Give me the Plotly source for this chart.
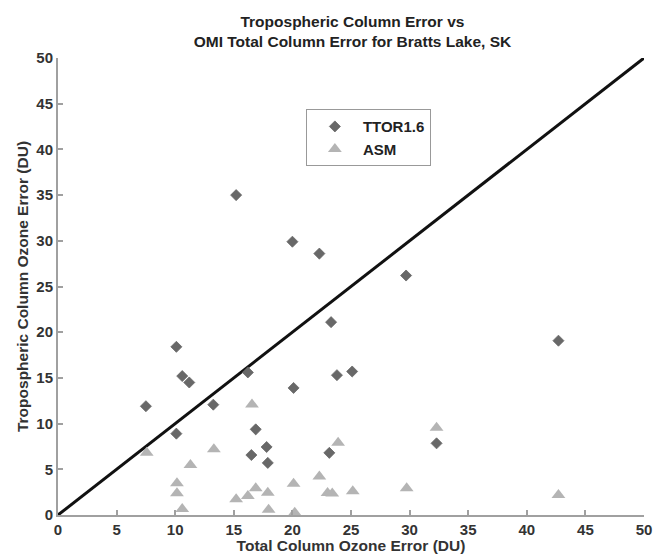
import plotly.graph_objects as go

# TTOR1.6 (diamonds)
ttor_x = [7.5, 10.1, 10.1, 10.6, 11.2, 13.25, 15.2, 16.2, 16.5, 16.87, 17.8, 17.9,
          20.0, 20.1, 22.3, 23.3, 23.15, 23.8, 25.1, 29.7, 32.3, 42.7]
ttor_y = [11.9, 18.4, 8.9, 15.2, 14.5, 12.07, 35.0, 15.6, 6.56, 9.37, 7.44, 5.7,
          29.9, 13.9, 28.6, 21.1, 6.8, 15.3, 15.7, 26.2, 7.84, 19.07]

# ASM (triangles)
asm_x = [7.57, 10.15, 10.15, 10.6, 11.3, 13.3, 15.2, 16.2, 16.55, 16.87, 17.9, 17.97,
         20.1, 20.2, 22.3, 23.0, 23.4, 23.9, 25.15, 29.75, 32.3, 42.7]
asm_y = [6.8, 3.47, 2.37, 0.65, 5.47, 7.19, 1.72, 2.08, 12.1, 2.92, 2.44, 0.58,
         3.43, 0.25, 4.2, 2.4, 2.35, 7.9, 2.6, 2.92, 9.55, 2.19]

# 1:1 reference line
line_x = [0, 50]
line_y = [0, 50]

tick_vals = [0, 5, 10, 15, 20, 25, 30, 35, 40, 45, 50]

FONT = "Liberation Sans"

fig = go.Figure()
fig.add_trace(go.Scatter(x=line_x, y=line_y, mode="lines",
                         line=dict(color="#111111", width=3), showlegend=False,
                         cliponaxis=False))
fig.add_trace(go.Scatter(x=ttor_x, y=ttor_y, mode="markers", name="TTOR1.6",
                         marker=dict(symbol="diamond", size=8.5, color="#686868",
                                     line=dict(width=0.8, color="#686868")), cliponaxis=False))
fig.add_trace(go.Scatter(x=asm_x, y=asm_y, mode="markers", name="ASM",
                         marker=dict(symbol="triangle-up", size=12, color="#b4b4b4",
                                     line=dict(width=0)), cliponaxis=False))

axis_common = dict(
    range=[0, 50], tickvals=tick_vals, ticks="inside", ticklen=5, tickwidth=1.5,
    tickcolor="#a0a0a0", showline=True, linecolor="#a0a0a0", linewidth=2,
    showgrid=False, zeroline=False, mirror=False, automargin=False,
    tickfont=dict(family=FONT, size=15, color="#333333", weight="bold"),
)

fig.update_layout(
    width=665, height=554,
    margin=dict(l=58, r=21, t=58, b=39, autoexpand=False),
    paper_bgcolor="white", plot_bgcolor="white",
    title=dict(text="<b>Tropospheric Column Error vs<br>OMI Total Column Error for Bratts Lake, SK</b>",
               x=0.53, xanchor="center", y=0.951, yanchor="top",
               font=dict(family=FONT, size=15.5, color="#222222")),
    xaxis=dict(**axis_common,
               title=dict(text="<b>Total Column Ozone Error (DU)</b>", standoff=2,
                          font=dict(family=FONT, size=15.5, color="#333333"))),
    yaxis=dict(**axis_common,
               title=dict(text="<b>Tropospheric Column Ozone Error (DU)</b>", standoff=4,
                          font=dict(family=FONT, size=15.5, color="#333333"))),
    legend=dict(x=0.423, y=0.888, xanchor="left", yanchor="top",
                bordercolor="#999999", borderwidth=1, bgcolor="white",
                font=dict(family=FONT, size=15, color="#222222", weight="bold"),
                itemwidth=46, tracegroupgap=0),
)

fig.write_html("out.html", config={"displayModeBar": False},
               post_script="document.body.style.margin='0';document.body.style.overflow='hidden';")
